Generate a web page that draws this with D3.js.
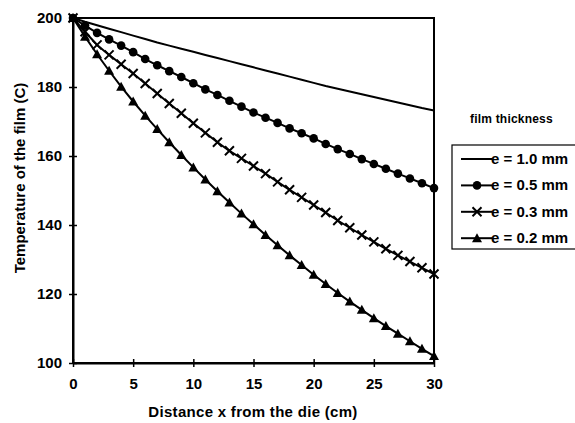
<!DOCTYPE html>
<html><head><meta charset="utf-8">
<script src="https://cdn.jsdelivr.net/npm/d3@7"></script>
<style>body{margin:0;background:#fff}svg{display:block}text{font-family:"Liberation Sans",Arial,sans-serif;font-weight:bold;fill:#000}</style>
</head><body><svg id="c" width="575" height="423"></svg>
<script>
const xValues = d3.range(0, 31);
const e10 = [200,198.9,197.9,196.9,195.9,194.9,193.9,192.9,192.0,191.1,190.2,189.3,188.4,187.5,186.6,185.7,184.8,183.9,183.0,182.1,181.2,180.3,179.5,178.7,177.9,177.1,176.3,175.5,174.7,173.9,173.2];
const e05 = [200,197.8,195.7,193.8,192.0,190.1,188.1,186.3,184.6,182.9,181.1,179.3,177.7,176.0,174.3,172.6,171.1,169.6,168.0,166.6,165.1,163.5,162.0,160.6,159.1,157.7,156.3,154.9,153.5,152.1,150.7];
const e03 = [200,196.0,192.2,189.3,186.6,183.9,181.0,178.1,175.2,172.4,169.5,166.7,164.0,161.5,159.3,157.1,154.9,152.5,150.2,148.0,145.8,143.6,141.3,139.2,137.1,135.1,133.1,131.2,129.4,127.6,125.8];
const e02 = [200,194.6,189.5,184.7,180.1,175.8,171.7,167.8,164.0,160.3,156.7,153.2,149.8,146.5,143.3,140.2,137.1,134.1,131.2,128.4,125.6,122.9,120.3,117.8,115.4,113.0,110.7,108.5,106.3,104.1,102.0];
const seriesNames = ["e = 1.0 mm","e = 0.5 mm","e = 0.3 mm","e = 0.2 mm"];
const seriesData = [e10, e05, e03, e02];
const seriesMarkers = ["none","circle","cross","triangle"];
const xTicks = [0,5,10,15,20,25,30];
const yTicks = [100,120,140,160,180,200];

const svg = d3.select("#c");
const L=73,R=434,T=18,B=363;
const x = d3.scaleLinear().domain([0,30]).range([L,R]);
const y = d3.scaleLinear().domain([100,200]).range([B,T]);

// frame
svg.append("rect").attr("x",L).attr("y",T).attr("width",R-L).attr("height",B-T)
  .attr("fill","none").attr("stroke","#000").attr("stroke-width",2);

// axes
const gx = svg.append("g").attr("transform",`translate(0,${B})`)
  .call(d3.axisBottom(x).tickValues(xTicks).tickSize(4).tickPadding(11).tickSizeOuter(0));
gx.selectAll(".tick line").attr("y1",-4).attr("y2",4).attr("stroke-width",1.5);
gx.select(".domain").attr("stroke-width",2);
gx.selectAll("text").attr("font-size",15).attr("font-family","Liberation Sans").attr("font-weight","bold");
const gy = svg.append("g").attr("transform",`translate(${L},0)`)
  .call(d3.axisLeft(y).tickValues(yTicks).tickSize(4).tickPadding(7).tickSizeOuter(0));
gy.selectAll(".tick line").attr("x1",-4).attr("x2",4).attr("stroke-width",1.5);
gy.select(".domain").attr("stroke-width",2);
gy.selectAll("text").attr("font-size",15).attr("font-family","Liberation Sans").attr("font-weight","bold");

svg.append("text").attr("x",253).attr("y",417).attr("text-anchor","middle").attr("font-size",15)
  .attr("letter-spacing",0.3).text("Distance x from the die (cm)");
svg.append("text").attr("transform","translate(25,178) rotate(-90)").attr("text-anchor","middle").attr("font-size",15).text("Temperature of the film (C)");

const line = d3.line().x((d,i)=>x(xValues[i])).y(d=>y(d));

function marker(g, type, cx, cy){
  if(type==="circle"){
    g.append("circle").attr("cx",cx).attr("cy",cy).attr("r",4.3).attr("fill","#000");
  } else if(type==="cross"){
    const s=4.5;
    g.append("path").attr("d",`M${cx-s},${cy-s}L${cx+s},${cy+s}M${cx-s},${cy+s}L${cx+s},${cy-s}`)
      .attr("stroke","#000").attr("stroke-width",2).attr("fill","none");
  } else if(type==="triangle"){
    const s=5;
    g.append("path").attr("d",`M${cx},${cy-s}L${cx+s},${cy+s*0.8}L${cx-s},${cy+s*0.8}Z`).attr("fill","#000");
  }
}

seriesData.forEach((vals,k)=>{
  const g = svg.append("g");
  g.append("path").attr("d",line(vals)).attr("fill","none").attr("stroke","#000").attr("stroke-width",2);
  vals.forEach((v,i)=>marker(g, seriesMarkers[k], x(xValues[i]), y(v)));
});

// legend
svg.append("text").attr("x",470).attr("y",123).attr("font-size",12).attr("letter-spacing",0.2).text("film thickness");
svg.append("rect").attr("x",452).attr("y",145).attr("width",140).attr("height",104)
  .attr("fill","#fff").attr("stroke","#000").attr("stroke-width",1.2);
seriesNames.forEach((n,k)=>{
  const yy = 159 + k*26.4;
  const g = svg.append("g");
  g.append("line").attr("x1",461).attr("x2",492).attr("y1",yy).attr("y2",yy).attr("stroke","#000").attr("stroke-width",2);
  marker(g, seriesMarkers[k], 477, yy);
  g.append("text").attr("x",491).attr("y",yy+5).attr("font-size",15).text(n);
});
</script></body></html>
